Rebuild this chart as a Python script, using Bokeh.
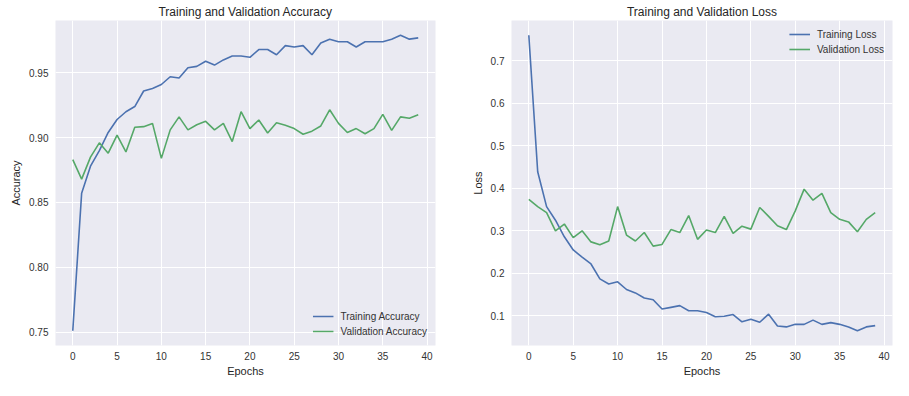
from bokeh.plotting import figure
from bokeh.layouts import row
from bokeh.models import SingleIntervalTicker, NumeralTickFormatter, Range1d, Legend, LegendItem, Spacer
from bokeh.embed import file_html
from bokeh.resources import INLINE

epochs = list(range(40))
train_acc = [0.751, 0.857, 0.878, 0.890, 0.904, 0.914, 0.920, 0.924, 0.936, 0.938,
             0.941, 0.947, 0.946, 0.954, 0.955, 0.959, 0.956, 0.960, 0.963, 0.963,
             0.962, 0.968, 0.968, 0.964, 0.971, 0.970, 0.971, 0.964, 0.973, 0.976,
             0.974, 0.974, 0.970, 0.974, 0.974, 0.974, 0.976, 0.979, 0.976, 0.977]
val_acc = [0.883, 0.868, 0.885, 0.896, 0.888, 0.902, 0.889, 0.908, 0.9085, 0.911,
           0.884, 0.906, 0.916, 0.906, 0.910, 0.9126, 0.906, 0.911, 0.897, 0.920,
           0.907, 0.9136, 0.9036, 0.9115, 0.9095, 0.907, 0.9026, 0.905, 0.909, 0.9215,
           0.911, 0.904, 0.907, 0.903, 0.907, 0.918, 0.9056, 0.916, 0.915, 0.9177]
train_loss = [0.760, 0.439, 0.357, 0.325, 0.286, 0.255, 0.238, 0.222, 0.187, 0.175,
              0.180, 0.162, 0.154, 0.142, 0.138, 0.116, 0.120, 0.124, 0.112, 0.112,
              0.108, 0.098, 0.099, 0.103, 0.086, 0.092, 0.085, 0.104, 0.076, 0.074,
              0.080, 0.080, 0.090, 0.080, 0.084, 0.080, 0.074, 0.065, 0.074, 0.077]
val_loss = [0.374, 0.357, 0.343, 0.300, 0.316, 0.284, 0.300, 0.274, 0.267, 0.276,
            0.357, 0.290, 0.276, 0.296, 0.264, 0.268, 0.303, 0.296, 0.336, 0.280,
            0.302, 0.296, 0.334, 0.294, 0.311, 0.304, 0.355, 0.334, 0.312, 0.303,
            0.347, 0.398, 0.372, 0.388, 0.343, 0.327, 0.321, 0.298, 0.327, 0.343]

BLUE = "#4C72B0"
GREEN = "#55A868"
FONT = "Liberation Sans"
TXT = "#333333"


def padded(vals, frac=0.05):
    lo, hi = min(vals), max(vals)
    s = hi - lo
    return Range1d(lo - frac * s, hi + frac * s)


def make(title, ylabel, s1, s2, n1, n2, ytick, yfmt, legloc, bl, br, fw):
    p = figure(output_backend="svg", toolbar_location=None,
               frame_width=fw, frame_height=325,
               min_border_left=bl, min_border_right=br, min_border_top=0,
               min_border_bottom=40,
               x_range=padded(epochs), y_range=padded(s1 + s2),
               title=title)
    p.background_fill_color = "#EAEAF2"
    p.border_fill_color = "white"
    p.outline_line_color = None
    p.title.align = "center"
    p.title.text_font = FONT
    p.title.text_font_size = "12px"
    p.title.text_font_style = "normal"
    p.title.text_color = "#262626"
    p.title.standoff = 4
    r1 = p.line(epochs, s1, line_color=BLUE, line_width=1.6)
    r2 = p.line(epochs, s2, line_color=GREEN, line_width=1.6)
    p.xaxis.ticker = SingleIntervalTicker(interval=5)
    p.yaxis.ticker = SingleIntervalTicker(interval=ytick)
    p.yaxis.formatter = NumeralTickFormatter(format=yfmt)
    for ax in (p.xaxis[0], p.yaxis[0]):
        ax.axis_line_color = None
        ax.major_tick_line_color = None
        ax.minor_tick_line_color = None
        ax.major_tick_out = 0
        ax.major_tick_in = 0
        ax.minor_tick_out = 0
        ax.minor_tick_in = 0
        ax.major_label_text_font = FONT
        ax.major_label_text_font_size = "10px"
        ax.major_label_text_color = TXT
        ax.axis_label_text_font = FONT
        ax.axis_label_text_font_size = "11px"
        ax.axis_label_text_font_style = "normal"
        ax.axis_label_text_color = "#262626"
    p.xaxis.major_label_standoff = 6
    p.yaxis.major_label_standoff = 7
    p.xaxis.axis_label_standoff = 2
    p.yaxis.axis_label_standoff = 4
    p.xaxis.axis_label = "Epochs"
    p.yaxis.axis_label = ylabel
    p.xgrid.grid_line_color = "white"
    p.ygrid.grid_line_color = "white"
    p.xgrid.grid_line_width = 1
    p.ygrid.grid_line_width = 1
    leg = Legend(items=[LegendItem(label=n1, renderers=[r1]),
                        LegendItem(label=n2, renderers=[r2])],
                 location=legloc)
    leg.background_fill_alpha = 0
    leg.border_line_alpha = 0
    leg.label_text_font = FONT
    leg.label_text_font_size = "10px"
    leg.label_text_color = TXT
    leg.glyph_width = 21
    leg.glyph_height = 12
    leg.label_height = 12
    leg.spacing = 3
    leg.label_standoff = 7
    leg.padding = 5
    leg.margin = 3
    p.add_layout(leg, "center")
    return p


p1 = make("Training and Validation Accuracy", "Accuracy", train_acc, val_acc,
          "Training Accuracy", "Validation Accuracy", 0.05, "0.00", "bottom_right", 40, 23, 380)
p2 = make("Training and Validation Loss", "Loss", train_loss, val_loss,
          "Training Loss", "Validation Loss", 0.1, "0.0", "top_right", 53, 8, 381)

layout = row(Spacer(width=7, height=10), p1, p2)
open("out.html", "w").write(file_html(layout, INLINE))
